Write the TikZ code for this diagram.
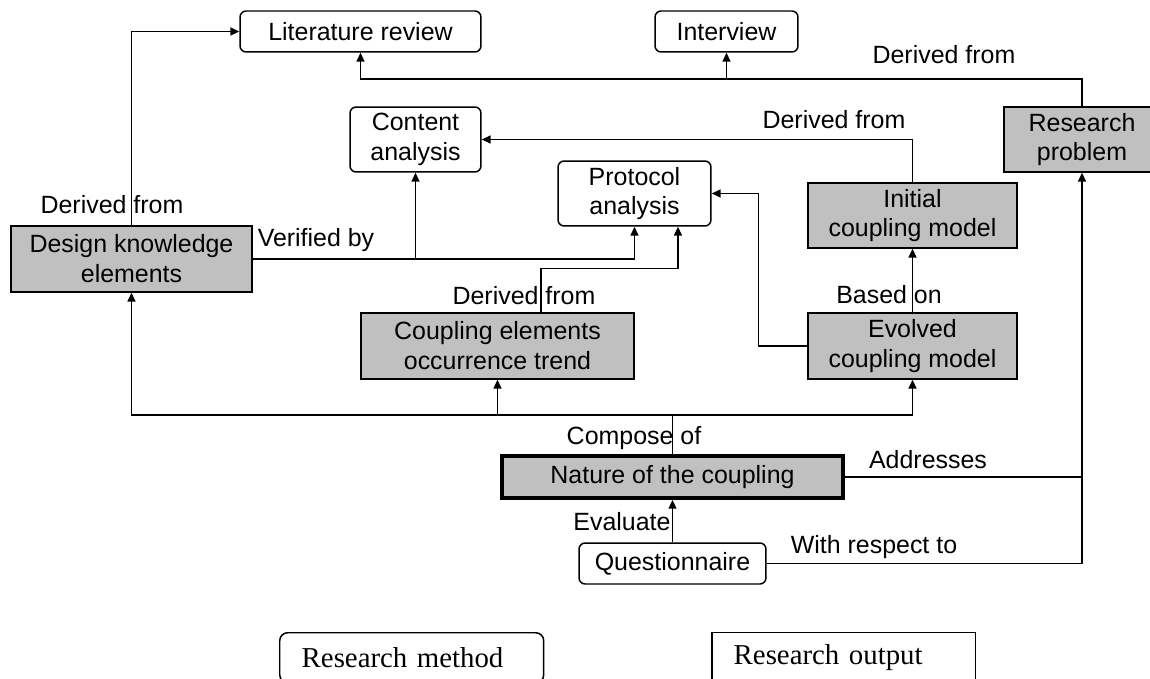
\documentclass[tikz,border=0pt]{standalone}
\usepackage{fontspec}
\setmainfont{Liberation Sans}
\newfontfamily\legendfont{Liberation Serif}
\usetikzlibrary{arrows.meta}
\definecolor{outgray}{RGB}{192,192,192}

\begin{document}
\begin{tikzpicture}[x=0.02cm, y=-0.02cm, line width=0.85pt,
        >={Triangle[length=5pt,width=4.5pt]},
        every node/.style={font=\fontsize{14.2}{17}\selectfont},
        method/.style={draw, rounded corners=3.5pt, fill=white, align=center, inner sep=0pt},
        output/.style={draw, fill=outgray, align=center, inner sep=0pt},
        lbl/.style={inner sep=0pt}]
        \useasboundingbox (0,0) rectangle (1150,679);

        \node[method, minimum width=4.82cm, minimum height=.82cm] (lit) at (360.5,31.5) {Literature review};
        \node[method, minimum width=2.86cm, minimum height=.82cm] (intv) at (726.5,31.5) {Interview};
        \node[method, minimum width=2.62cm, minimum height=1.3cm] (cont) at (415.5,139.5) {Content\\analysis};
        \node[method, minimum width=3.06cm, minimum height=1.3cm] (prot) at (634.5,193.5) {Protocol\\analysis};
        \node[method, minimum width=3.74cm, minimum height=.82cm] (quest) at (672.5,563.5) {Questionnaire};

        \node[output, minimum width=3.12cm, minimum height=1.3cm] (rp) at (1082,139.5) {Research\\problem};
        \node[output, minimum width=4.18cm, minimum height=1.3cm] (init) at (912.5,215.5) {Initial\\coupling model};
        \node[output, minimum width=4.82cm, minimum height=1.32cm] (dke) at (131.5,259) {Design knowledge\\elements};
        \node[output, minimum width=5.46cm, minimum height=1.32cm] (ceot) at (497.5,346) {Coupling elements\\occurrence trend};
        \node[output, minimum width=4.18cm, minimum height=1.32cm] (evo) at (912.5,346) {Evolved\\coupling model};
        \node[output, line width=2.2pt, minimum width=6.82cm, minimum height=.84cm] (nat) at (672.5,477) {Nature of the coupling};

        \coordinate (topline) at (1082,79);
        \draw[->] (dke.north) |- (lit.west);
        \draw[->] (rp.north) -- (topline) -| (lit.south);
        \draw[->] (intv.south |- topline) -- (intv.south);
        \draw[->] (init.north) |- (cont.east);
        \draw[->] (evo.north) -- (init.south);
        \draw[->] (dke.east) -| (prot.south);
        \draw[->] (cont.south |- dke.east) -- (cont.south);
        \draw[->] ([xshift=.87cm]ceot.north) -- ++(0,.88cm) -| ([xshift=.87cm]prot.south);
        \draw[->] (evo.west) -- ++(-.98cm,0) |- (prot.east);
        \draw (nat.north) -- ++(0,.78cm) coordinate (split);
        \draw[->] (split) -| (dke.south);
        \draw[->] (split) -| (ceot.south);
        \draw[->] (split) -| (evo.south);
        \draw[->] (quest.north) -- (nat.south);
        \draw[->] (quest.east) -| (rp.south);
        \draw (nat.east) -- (nat.east -| rp.south);

        \node[lbl] (lbllit) at (112,205) {Derived from};
        \node[lbl] (lblrp) at (944,55) {Derived from};
        \node[lbl] (lblinit) at (834,120) {Derived from};
        \node[lbl] (lblceot) at (524,296) {Derived from};
        \node[lbl] (lblver) at (316,240) {Verified by};
        \node[lbl] (lblbase) at (889,295) {Based on};
        \node[lbl] (lblcomp) at (634,438) {Compose of};
        \node[lbl] (lbladdr) at (928,460) {Addresses};
        \node[lbl] (lbleval) at (622,522) {Evaluate};
        \node[lbl] (lblresp) at (874,547) {With respect to};

        \node[draw, rounded corners=4.5pt, fill=white, anchor=north west, minimum width=5.28cm,
            minimum height=1cm, text width=4.4cm, inner xsep=.44cm, inner ysep=0pt, align=left,
            font=\legendfont\fontsize{16.4}{18}\selectfont] (legmethod) at (279,632) {Research method};
        \node[draw, fill=white, anchor=north west, minimum width=5.28cm,
            minimum height=1cm, text width=4.4cm, inner xsep=.42cm, inner ysep=0pt, align=left,
            font=\legendfont\fontsize{16.4}{18}\selectfont] (legoutput) at (711,632) {Research output};
    \end{tikzpicture}
\end{document}
